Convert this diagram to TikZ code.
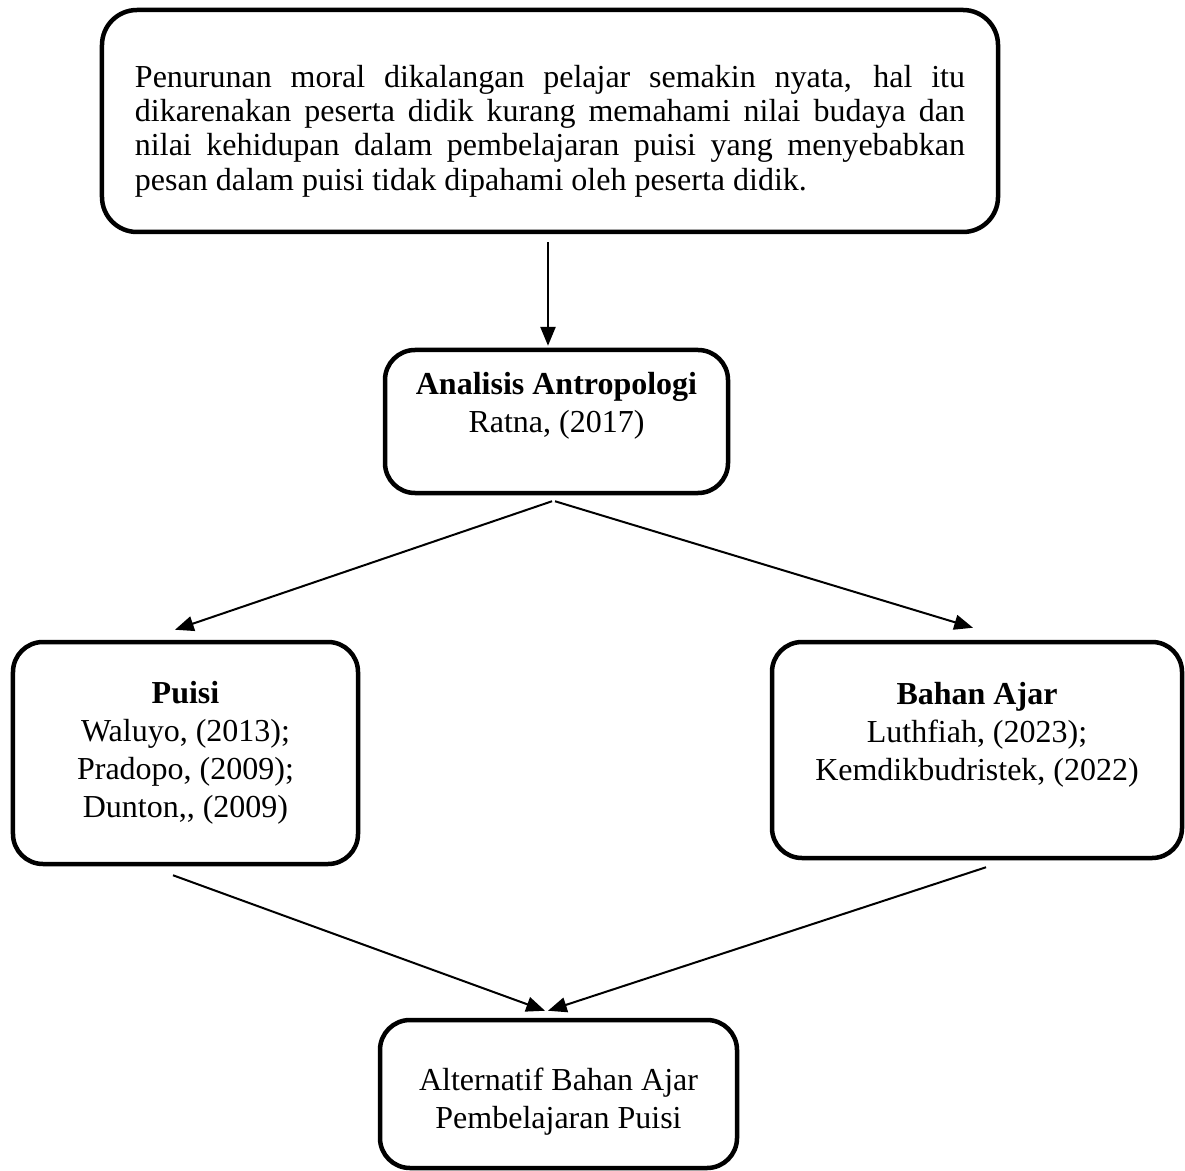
\documentclass[tikz,border=0pt]{standalone}
\usepackage{fontspec}
\setmainfont{Liberation Serif}
\usetikzlibrary{arrows.meta,calc}

\begin{document}
\begin{tikzpicture}[x=0.4pt,y=-0.4pt,
  box/.style={draw=black,line width=1.8pt,rounded corners=12pt,align=center,
    font=\fontsize{12.8pt}{15.2pt}\selectfont},
  conn/.style={draw=black,line width=0.8pt,-{Triangle[length=7.5pt,width=6pt]}}]
\useasboundingbox (0,0) rectangle (1185,1171);

% boxes
\node[box,rounded corners=14pt,minimum width=358.4pt,minimum height=88.8pt,
  text width=332pt,align=justify,font=\fontsize{12.8pt}{13.7pt}\selectfont]
  (masalah) at (550,121)
  {\rule{0pt}{17pt}Penurunan moral dikalangan pelajar semakin nyata, hal itu\linebreak
   dikarenakan peserta didik kurang memahami nilai budaya dan\linebreak
   nilai kehidupan dalam pembelajaran puisi yang menyebabkan\linebreak
   pesan dalam puisi tidak dipahami oleh peserta didik.};
\node[box,minimum width=137.2pt,minimum height=57.2pt] (analisis) at (556.5,421.5)
  {\textbf{Analisis Antropologi}\\ Ratna, (2017)\\ ~};
\node[box,minimum width=138pt,minimum height=88.8pt] (puisi) at (185.5,753)
  {\textbf{Puisi}\\ Waluyo, (2013);\\ Pradopo, (2009);\\ Dunton,{}, (2009)};
\node[box,minimum width=164pt,minimum height=86.4pt] (bahan) at (977,750)
  {\textbf{Bahan Ajar}\\ Luthfiah, (2023);\\ Kemdikbudristek, (2022)\\ ~};
\node[box,minimum width=142.8pt,minimum height=59.2pt] (alternatif) at (558.5,1094)
  {\rule{0pt}{15.5pt}Alternatif Bahan Ajar\\ Pembelajaran Puisi};

% arrows
\draw[conn] ($(masalah.south)+(-2,8)$) -- ($(analisis.north)+(-8.5,-2)$);
\draw[conn] ($(analisis.south)+(-4.5,6)$) -- ($(puisi.north)+(-10.5,-10)$);
\draw[conn] ($(analisis.south)+(-1.5,6)$) -- ($(bahan.north)+(-4,-12)$);
\draw[conn] ($(puisi.south)+(-12.5,9)$) -- ($(alternatif.north)+(-13.5,-7)$);
\draw[conn] ($(bahan.south)+(9,7)$) -- ($(alternatif.north)+(-10.5,-7)$);

\end{tikzpicture}
\end{document}
